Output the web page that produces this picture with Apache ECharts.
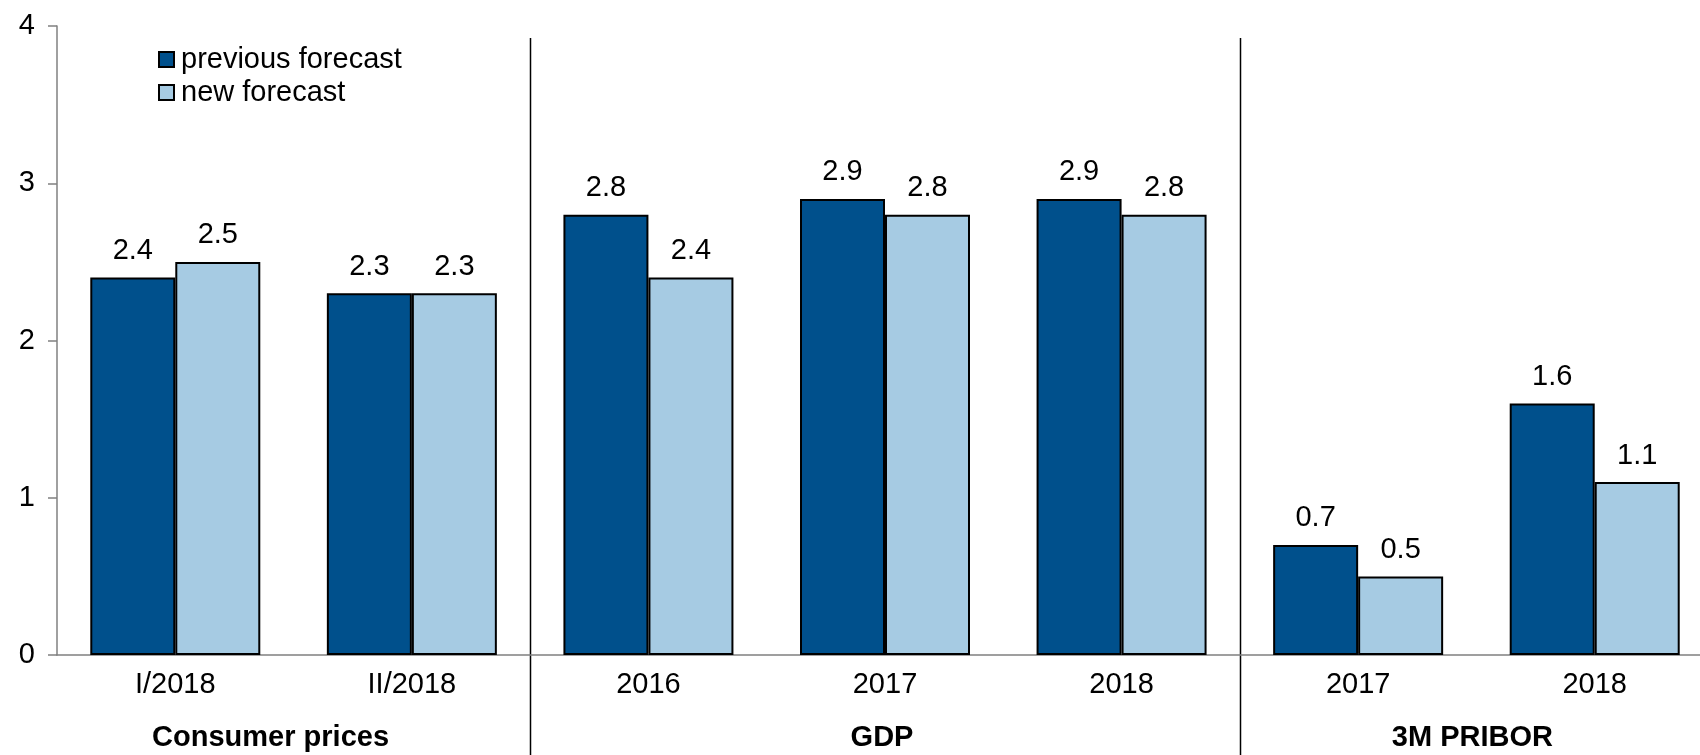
<!DOCTYPE html>
<html>
<head>
<meta charset="utf-8">
<script src="https://cdn.jsdelivr.net/npm/echarts@6/dist/echarts.min.js"></script>
<style>
  html, body { margin: 0; padding: 0; background: #fff; overflow: hidden; }
  /* the plot runs a little past the right edge of the window, as in the original */
  #chart { width: 1720px; height: 755px; }
</style>
</head>
<body>
<div id="chart"></div>
<script>
// categories on the x axis
const categories = ['I/2018', 'II/2018', '2016', '2017', '2018', '2017', '2018']
// series values
const previousForecast = [2.4, 2.3, 2.8, 2.9, 2.9, 0.7, 1.6]
const newForecast = [2.5, 2.3, 2.4, 2.8, 2.8, 0.5, 1.1]
// groups under the categories
const groupNames = ['Consumer prices', 'GDP', '3M PRIBOR']
const groupFirst = [0, 2, 5]
const groupLast = [1, 4, 6]
// y axis ticks
const yTicks = [0, 1, 2, 3, 4]

const FONT = 'Liberation Sans, Arial, sans-serif'
const FS = 29
const DARK = '#00508C'
const LIGHT = '#A6CBE3'

const chart = echarts.init(document.getElementById('chart'))

const barLabel = {
  show: true,
  position: 'top',
  distance: 12,
  color: '#000',
  fontFamily: FONT,
  fontSize: FS,
  formatter: p => p.value.toFixed(1)
}

chart.setOption({
  animation: false,
  textStyle: { fontFamily: FONT },
  legend: {
    orient: 'vertical',
    left: 153,
    top: 40,
    itemWidth: 15,
    itemHeight: 15,
    itemGap: 4,
    icon: 'rect',
    textStyle: { fontSize: FS, color: '#000', fontFamily: FONT, padding: [0, 0, 0, 2] },
    data: ['previous forecast', 'new forecast']
  },
  grid: {
    left: 57,
    top: 26,
    width: 1656,
    height: 629
  },
  xAxis: {
    type: 'category',
    data: categories,
    axisLine: { lineStyle: { color: '#808080', width: 1.5 } },
    axisTick: { show: false },
    axisLabel: { color: '#000', fontSize: FS, fontFamily: FONT, margin: 15 }
  },
  yAxis: {
    type: 'value',
    min: yTicks[0],
    max: yTicks[yTicks.length - 1],
    interval: 1,
    splitLine: { show: false },
    axisLine: { show: true, lineStyle: { color: '#808080', width: 1.5 } },
    axisTick: { show: true, length: 9, lineStyle: { color: '#808080', width: 1.5 } },
    axisLabel: { color: '#000', fontSize: FS, fontFamily: FONT, margin: 22 }
  },
  series: [
    {
      name: 'previous forecast',
      type: 'bar',
      data: previousForecast,
      barWidth: 85,
      barGap: '0%',
      itemStyle: { color: DARK, borderColor: '#000', borderWidth: 2 },
      label: barLabel
    },
    {
      name: 'new forecast',
      type: 'bar',
      data: newForecast,
      barWidth: 85,
      barGap: '0%',
      itemStyle: { color: LIGHT, borderColor: '#000', borderWidth: 2 },
      label: barLabel
    }
  ]
})

// separators and group titles placed from the axis scale
const px = i => chart.convertToPixel({ xAxisIndex: 0 }, i)
const step = px(1) - px(0)
const graphics = []
groupFirst.slice(1).forEach(first => {
  const x = Math.round(px(first) - step / 2) + 0.5
  graphics.push({
    type: 'line',
    shape: { x1: x, y1: 38, x2: x, y2: 755 },
    style: { stroke: '#000', lineWidth: 1.5 },
    silent: true
  })
})
const titleShift = [-23, -3, -4]
groupNames.forEach((name, g) => {
  const cx = (px(groupFirst[g]) + px(groupLast[g])) / 2 + titleShift[g]
  graphics.push({
    type: 'text',
    x: cx,
    y: 738,
    style: {
      text: name,
      fill: '#000',
      font: 'bold ' + FS + 'px ' + FONT,
      align: 'center',
      verticalAlign: 'middle'
    },
    silent: true
  })
})
chart.setOption({ graphic: graphics })
</script>
</body>
</html>
